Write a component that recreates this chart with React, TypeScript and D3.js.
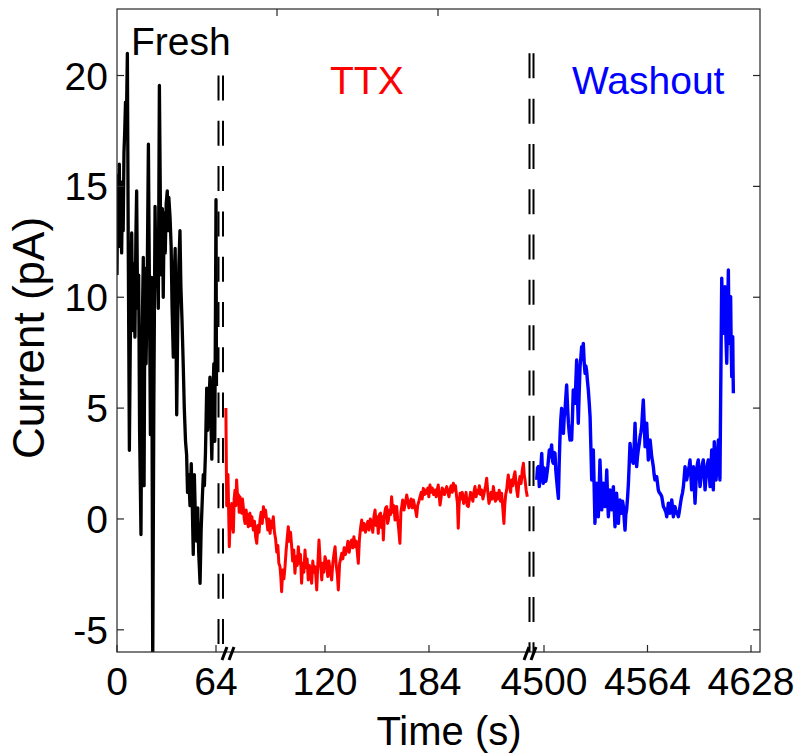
import React from 'react';
import * as d3 from 'd3';

// ---------- data ----------
const freshTime = [0,0.5,1,1.5,2,2.5,3,3.5,4,4.5,5,5.5,6,6.7,7.3,8,8.6,9.5,10.2,10.8,11.6,12.2,12.7,13.3,14,14.6,15.5,16.2,17,17.5,18.1,18.8,19.5,20.3,21,21.6,22.4,23.1,23.8,24.6,25.3,26,26.7,27.4,28.2,28.8,29.3,29.9,30.5,31.2,31.8,32.5,33,33.5,34.3,35,35.6,36.4,37,37.6,38.2,38.6,39.3,40,40.7,41.3,42,42.8,43.5,44.3,45,45.6,46.3,47.2,48,48.7,49.3,50,50.7,51.5,52.2,52.8,53.7,54.4,55.2,55.8,56.5,57.2,58,58.6,59.3,60.1,60.7,61.3,62,62.6,63.2,63.7,64,64.3];
const freshCurrent = [11,15.5,12.5,16,12.3,15.2,12,14.8,13,16.5,17.5,18.8,17.5,21,12,3.1,8,12.9,8.5,11.5,8.2,12.7,14.8,9.5,11,4,-0.7,8,11.8,1.5,11.3,7,10.5,16.9,10,3.8,10.9,-6.6,5,14.1,10.5,12,9.5,19.55,13,11,14,10,13.8,12,14.2,14.8,13,14.5,13.6,12.3,9.5,7.3,11,12.2,8,4.7,9,11.5,13,10.5,9,7,5,3.5,2.9,1.2,2,0.6,2.5,0.5,-1.6,2,0,-1,0.5,-1.5,-2.9,-0.5,1,2,1.5,3,5.9,4,5,6.4,4.5,2.7,5.5,7,3.5,10,14.4,6];

const ttxTime = [59,59.5,60.3,61.1,61.8,62.6,63.1,63.6,64.1,64.6,65.1,65.6,66.2,66.7,67.2,67.7,68.2,68.7,69.2,69.7,70.3,70.8,71.5,72.1,72.8,73.3,73.8,74.4,75,75.9,76.6,77.3,78,78.7,79.4,80,80.7,81.4,82.1,82.8,83.4,84.1,84.8,85.5,86.2,86.9,87.5,88.2,88.9,89.6,90.3,91,91.6,92.3,92.8,93.3,94,94.7,95.4,96,96.7,97.4,98.1,98.8,99.5,100.1,100.8,101.5,102.2,102.9,103.6,104.3,104.9,105.6,106.3,107,107.7,108.4,109,109.7,110.4,111.1,111.8,112.5,113.1,113.8,114.4,114.9,115.5,116.3,117,117.6,118,118.7,119.3,120,121,121.7,122.4,123.1,124.1,124.8,125.5,126.2,126.9,127.6,128.2,129,129.6,130.3,131,131.8,132.6,133.3,134.1,134.9,135.7,136.4,137.1,137.8,138.5,139.2,139.9,140.5,141.2,141.9,142.6,143.3,144.1,144.9,145.6,146.4,147.1,147.9,148.7,149.4,150.1,150.8,151.5,152.1,152.8,153.5,154.2,154.9,155.4,155.9,156.6,157.3,158,158.5,159,159.7,160.3,161,161.7,162.4,163.1,163.6,164.1,164.7,165.4,166.1,166.7,167.3,167.8,168.6,169.4,170.3,171,171.6,172.3,173,173.7,174.4,175.1,175.7,176.4,177,177.8,178.5,179.2,179.8,180.5,181.2,181.9,182.6,183.3,183.9,184.6,185.3,186,186.8,187.7,188.4,189,189.7,190.2,190.8,191.5,192.1,192.8,193.5,194.2,194.9,195.6,196.3,196.9,197.6,198.3,199,199.6,200.3,201,201.5,202,202.5,203.1,203.8,204.5,205.3,206.1,206.8,207.5,208.2,208.9,209.6,210.3,211,211.6,212.3,213,213.7,214.4,215,215.7,216.4,217.2,218,218.8,219.5,220.2,220.9,221.5,222.2,222.9,223.6,224.3,224.9,225.6,226.4,227.2,228,228.7,229.4,230.1,230.6,231.2,231.8,232.3,232.8,233.5,234.2,234.9,235.6,236.2,236.9,237.6,238,238.6,239.3,240,240.7,241.4,242.1,242.6,243.1,243.8,244.5];
const ttxCurrent = [5,0.6,2,-1.25,0.2,0.7,-0.3,-0.6,0.9,1.3,0.6,1.76,1,1.1,0.3,1,0.4,0.26,0.9,0.56,0,-0.2,0.4,-0.1,-0.35,0.2,0.26,-0.3,0.1,-0.5,-0.1,-0.8,-1.1,-0.3,-0.6,-0.05,0.3,-0.2,0.55,0.1,0.4,-0.05,-0.5,0,-0.65,-0.1,-0.4,0.1,-0.6,-0.9,-1.5,-1.2,-2,-2.15,-2.6,-3.28,-2.3,-2.7,-2.15,-1.5,-0.9,-0.35,-1,-0.6,-1.25,-1.9,-1.4,-2.45,-1.7,-2.1,-1.25,-2,-1.6,-2.9,-2,-2.4,-1.4,-2.2,-1.8,-2.75,-2.1,-2.5,-2.9,-1.9,-2.4,-2.15,-2.6,-3.2,-2.2,-0.95,-1.9,-2.3,-2.75,-2,-2.4,-1.7,-2,-2.6,-1.9,-2.3,-2.75,-2,-1.6,-1.25,-2.1,-2.5,-3.2,-2,-1.8,-1.55,-1.8,-1.3,-1.6,-1.4,-1,-1.5,-1.1,-0.95,-1.3,-0.8,-1.25,-1,-1.5,-2,-0.9,-0.4,-0.05,-0.5,-0.2,-0.6,-0.35,-0.1,-0.5,0,-0.2,-0.6,0.1,0.4,-0.3,0.1,-0.65,0.2,0.26,-0.4,0.1,-0.95,0.2,0.5,0.56,-0.2,-0.05,0.4,0.2,1,0.3,0.6,-0.05,0.4,0.56,0,-0.5,-1.1,0.3,0.6,0.86,0.4,0.7,1.08,0.8,0.5,0.71,0.9,0.5,0.86,0.6,0.4,0.11,0.6,0.8,1.01,1.2,0.9,1.38,1.1,1.3,1.16,1.4,1,1.53,1.2,1.4,1.1,1.31,1,1.3,1.53,1.1,0.63,1,1.4,1.31,1.1,1.3,1.46,1.2,1,1.31,1.5,1.2,1.61,1.3,1.5,1.01,0.7,-0.42,0.6,1.16,0.9,1.2,0.7,0.86,1.2,0.6,0.56,0.9,1.2,1.01,0.8,1.2,1.46,1,1.3,1.16,1.5,1.1,1.31,0.9,1.2,1.5,1.84,1.2,0.7,0.86,1.2,0.9,1.46,1.1,0.8,1.16,0.9,1.3,0.8,1.16,0.5,-0.2,0.6,1.1,1.31,1.7,1.98,1.5,1.2,1.76,1.5,1.9,2.13,1.6,1.3,1.01,1.6,1.91,1.6,2.2,2.51,2,1.76,1.3,1];

const washTime = [4495.5,4496,4496.5,4497.1,4497.8,4498.6,4499.1,4499.6,4500.1,4500.6,4501.1,4501.6,4502.4,4503.3,4504,4504.7,4505.3,4505.8,4506.3,4506.8,4507.3,4507.8,4508.4,4508.9,4509.4,4509.9,4510.4,4510.9,4511.5,4512,4512.5,4513,4513.5,4514,4514.6,4515.1,4515.6,4516.1,4516.6,4517.1,4517.6,4518.1,4518.7,4519.2,4519.7,4520.2,4520.7,4521.2,4521.8,4522.3,4522.8,4523.3,4523.8,4524.3,4524.9,4525.4,4525.9,4526.4,4526.9,4527.4,4528,4528.5,4529,4529.5,4530,4530.5,4531,4531.5,4532,4532.6,4533.1,4533.6,4534.1,4534.6,4535.2,4535.7,4536.2,4536.7,4537.2,4537.7,4538.3,4538.8,4539.3,4539.8,4540.3,4540.8,4541.4,4541.9,4542.4,4542.9,4543.4,4543.9,4544.4,4544.9,4545.5,4546,4546.5,4547,4547.5,4548,4548.6,4549.1,4549.6,4550.1,4550.6,4551.1,4551.7,4552.2,4552.7,4553.2,4553.7,4554.2,4554.7,4555.2,4555.8,4556.3,4556.8,4557.3,4557.8,4558.3,4558.9,4559.4,4559.9,4560.4,4560.9,4561.4,4562,4562.5,4563,4563.5,4564,4564.5,4565.1,4565.6,4566.1,4566.6,4567.1,4567.6,4568.1,4568.6,4569.2,4569.7,4570.2,4570.7,4571.2,4571.7,4572.2,4572.8,4573.3,4573.8,4574.3,4574.8,4575.4,4575.9,4576.4,4576.9,4577.4,4577.9,4578.5,4579,4579.5,4580,4580.5,4581,4581.5,4582,4582.6,4583.1,4583.6,4584.1,4584.6,4585.1,4585.7,4586.2,4586.7,4587.2,4587.7,4588.2,4588.8,4589.3,4589.8,4590.3,4590.8,4591.3,4591.9,4592.4,4592.9,4593.4,4593.9,4594.4,4594.9,4595.4,4596,4596.5,4597,4597.5,4598,4598.5,4599.1,4599.6,4600.1,4600.6,4601.1,4601.6,4602.2,4602.7,4603.2,4603.7,4604.2,4604.7,4605.3,4605.8,4606.4,4607.1,4607.8,4608.3,4608.8,4609.5,4609.9,4610.4,4610.9,4611.4,4611.9,4612.4,4613,4613.5,4614,4614.3,4614.6,4615,4615.4,4615.7,4616.1,4616.4,4616.7,4616.9,4617.1];
const washCurrent = [1.76,2.3,2.36,1.46,2,2.96,2,1.61,2.3,2.2,1.7,1.91,2.4,3.11,2.8,3.34,2.6,2.51,3,2.96,2.2,1.76,1.3,0.93,2.5,3.71,4.5,4.99,4.2,3.86,4.6,4.92,5.5,6.04,5,4.32,3.9,3.56,3.8,3.56,4.6,5.82,5.4,5.22,6.2,7.17,5.5,4.32,5.8,6.87,7.3,7.77,7.2,7.92,7,6.57,6.9,6.65,6.2,5.82,5.2,4.61,3.2,1.76,2.5,3.11,1.5,-0.2,0.8,1.61,0.9,0.1,1.3,2.66,1.5,0.41,1.1,1.61,1,0.56,1.3,2.21,1,0.1,0.9,1.31,0.8,0.41,1,1.46,0.5,-0.35,0.5,1.16,0.4,-0.2,0.5,0.86,0.4,0.26,0.8,0.56,0,-0.5,0.2,0.41,1,1.61,2.5,3.41,3,2.81,2.6,2.51,3.4,4.32,3.2,2.36,2.8,3.11,3.4,3.71,3.9,4.16,4.8,5.37,4.3,3.26,3.8,4.32,3.5,2.66,3.1,3.56,3.2,2.81,2.6,2.36,2,1.76,1.9,1.91,1.6,1.31,1.2,1.16,1.1,1.01,0.8,0.56,0.5,0.41,0.3,0.1,0.4,0.71,0.5,0.26,0.6,0.86,0.5,0.1,0.4,0.56,0.4,0.26,0.2,0.1,0.3,0.56,0.8,1.01,1.2,1.46,1.9,2.36,2,1.76,2,2.21,2.4,2.66,2,1.31,1.8,2.36,1.5,0.71,1.5,2.21,2.5,2.66,2,1.46,1.8,2.21,2.5,2.66,2,1.31,1.8,2.21,2.5,2.66,2,1.46,2.2,3.11,2.2,1.31,3.49,2.5,1.76,2.6,3.56,2.5,1.76,7.62,10.86,9.5,8.37,9.5,10.48,8.5,7.02,9,11.23,9,7.92,8.8,10.03,8,6.42,7.3,8.22,6.8,5.67];

const yTicks = [-5, 0, 5, 10, 15, 20];
const xTicksFresh = [0, 64];
const xTicksTtx = [120, 184];
const xTicksWash = [4500, 4564, 4628];

// ---------- layout ----------
const W = 798, H = 753;
const L = 117, R = 760, T = 9, B = 652;
const FONT = '"Liberation Sans", Arial, Helvetica, sans-serif';
const AX = '#262626';

export default function App() {
  const y = d3.scaleLinear().domain([-6, 23]).range([B, T]);
  const xF = d3.scaleLinear().domain([0, 64]).range([117, 216]);
  const xT = d3.scaleLinear().domain([120, 184]).range([325, 429]);
  const xW = d3.scaleLinear().domain([4500, 4628]).range([544, 751]);

  const path = (xs: d3.ScaleLinear<number, number>, ts: number[], vs: number[]) =>
    d3.line<number>().x((_, i) => xs(ts[i])).y((d) => y(d))(vs) || '';

  const bottomTicks = [
    ...xTicksFresh.map((t) => ({ x: xF(t), label: String(t) })),
    ...xTicksTtx.map((t) => ({ x: xT(t), label: String(t) })),
    ...xTicksWash.map((t) => ({ x: xW(t), label: String(t) })),
  ];
  const topTicks = [277, 438];
  const tickLen = 7;

  const dashPairs = [
    { xs: [218.5, 223], top: y(20) },
    { xs: [529.5, 533.5], top: y(21) },
  ];
  const breaks = [229, 531];

  return (
    <svg width={W} height={H} style={{ position: 'absolute', left: 0, top: 0, background: '#fff' }}
      fontFamily={FONT}>
      <defs>
        <clipPath id="plot">
          <rect x={L} y={T} width={R - L} height={B - T} />
        </clipPath>
      </defs>
      <rect x={0} y={0} width={W} height={H} fill="#fff" />

      {/* traces */}
      <g clipPath="url(#plot)" fill="none" strokeLinejoin="round">
        <path d={path(xF, freshTime, freshCurrent)} stroke="#000" strokeWidth={3.3} />
        <path d={path(xT, ttxTime, ttxCurrent)} stroke="#ff0000" strokeWidth={3} />
        <path d={path(xW, washTime, washCurrent)} stroke="#0000ff" strokeWidth={3.4} />
      </g>

      {/* dashed separators */}
      {dashPairs.map((p, i) =>
        p.xs.map((x, j) => (
          <line key={`d${i}${j}`} x1={x} x2={x} y1={p.top} y2={B} stroke="#000"
            strokeWidth={2} strokeDasharray="25 20.3" />
        ))
      )}

      {/* axes box */}
      <rect x={L} y={T} width={R - L} height={B - T} fill="none" stroke={AX} strokeWidth={1.2} />

      {/* y ticks */}
      {yTicks.map((v) => (
        <g key={`y${v}`}>
          <line x1={L} x2={L + tickLen} y1={y(v)} y2={y(v)} stroke={AX} strokeWidth={1.2} />
          <line x1={R} x2={R - tickLen} y1={y(v)} y2={y(v)} stroke={AX} strokeWidth={1.2} />
          <text x={108} y={y(v) + 14} textAnchor="end" fontSize={39} fill="#000">{v}</text>
        </g>
      ))}

      {/* x ticks */}
      {bottomTicks.map((t, i) => (
        <g key={`x${i}`}>
          <line x1={t.x} x2={t.x} y1={B} y2={B - tickLen} stroke={AX} strokeWidth={1.2} />
          <text x={t.x} y={695} textAnchor="middle" fontSize={39} fill="#000">{t.label}</text>
        </g>
      ))}
      {topTicks.map((x, i) => (
        <line key={`t${i}`} x1={x} x2={x} y1={T} y2={T + tickLen} stroke={AX} strokeWidth={1.2} />
      ))}

      {/* axis breaks */}
      {breaks.map((cx, i) => (
        <g key={`b${i}`} stroke="#000" strokeWidth={3}>
          <line x1={cx - 7} y1={660} x2={cx - 2} y2={647} />
          <line x1={cx} y1={660} x2={cx + 5} y2={647} />
        </g>
      ))}

      {/* labels */}
      <text x={131} y={55} fontSize={39} fill="#000">Fresh</text>
      <text x={330} y={94} fontSize={39} fill="#ff0000">TTX</text>
      <text x={572} y={94} fontSize={39} fill="#0000ff">Washout</text>
      <text x={449} y={745} textAnchor="middle" fontSize={40} fill="#000">Time (s)</text>
      <text transform="translate(44,338) rotate(-90)" textAnchor="middle" fontSize={44} fill="#000">
        Current (pA)
      </text>
    </svg>
  );
}
